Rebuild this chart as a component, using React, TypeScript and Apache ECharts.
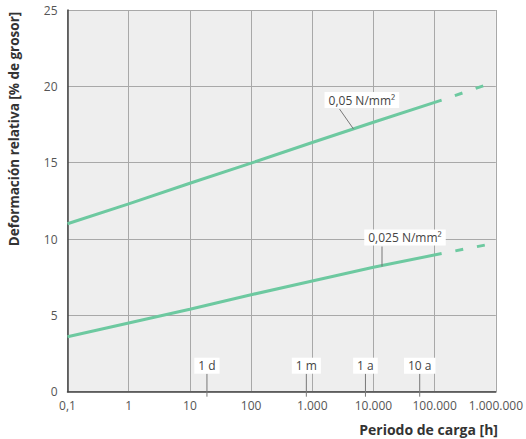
import React, { useEffect, useRef } from "react";
import * as echarts from "echarts";

// ---- data ----
const xTickLabels = ["0,1", "1", "10", "100", "1.000", "10.000", "100.000", "1.000.000"];
const yTicks = [0, 5, 10, 15, 20, 25];

const hoursSolid = [0.1, 1, 10, 100, 1000, 10000, 130000];
const hoursDashed = [130000, 700000];

const def005Solid = [11.0, 12.3, 13.65, 14.97, 16.32, 17.65, 19.1];
const def005Dashed = [19.1, 20.1];
const def0025Solid = [3.6, 4.5, 5.4, 6.35, 7.25, 8.15, 9.05];
const def0025Dashed = [9.05, 9.62];

const seriesNames = ["0,05 N/mm²", "0,025 N/mm²"];
const seriesAnchorHours = [4730, 13800];
const seriesAnchorValues = [17.2, 8.2];

const markerLabels = ["1 d", "1 m", "1 a", "10 a"];
const markerHours = [19, 800, 7400, 57000];

const yAxisTitle = "Deformación relativa [% de grosor]";
const xAxisTitle = "Periodo de carga [h]";

const LINE_COLOR = "#6dc9a0";
const FONT = "'Open Sans', 'Noto Sans', sans-serif";

const zip = (xs: number[], ys: number[]) => xs.map((x, i) => [x, ys[i]]);

export default function App() {
  const ref = useRef<HTMLDivElement>(null);

  useEffect(() => {
    document.body.style.margin = "0";
    const chart = echarts.init(ref.current!, undefined, { renderer: "svg" });
    const option: any = {
      animation: false,
      grid: {
        left: 67.5,
        right: 28,
        top: 10,
        bottom: 47.3,
        show: true,
        backgroundColor: "#eeeeee",
        borderWidth: 0,
      },
      xAxis: {
        type: "log",
        logBase: 10,
        min: 0.1,
        max: 1000000,
        axisLine: { show: true, lineStyle: { color: "#444", width: 1.5 } },
        axisTick: { show: false },
        splitLine: { show: true, lineStyle: { color: "#a8a8a8", width: 1 } },
        minorSplitLine: { show: false },
        axisLabel: {
          color: "#555",
          fontSize: 12,
          fontFamily: FONT,
          margin: 8,
          formatter: (v: number) => {
            const idx = Math.round(Math.log10(v)) + 1;
            return xTickLabels[idx] ?? "";
          },
        },
      },
      yAxis: {
        type: "value",
        min: yTicks[0],
        max: yTicks[yTicks.length - 1],
        interval: 5,
        axisLine: { show: true, lineStyle: { color: "#444", width: 1.5 } },
        axisTick: { show: false },
        splitLine: { show: true, lineStyle: { color: "#a8a8a8", width: 1 } },
        axisLabel: {
          color: "#555",
          fontSize: 12,
          fontFamily: FONT,
          margin: 10,
        },
      },
      series: [
        {
          name: seriesNames[0],
          type: "line",
          data: zip(hoursSolid, def005Solid),
          symbol: "none",
          lineStyle: { color: LINE_COLOR, width: 3 },
          z: 5,
        },
        {
          name: seriesNames[0] + " ext",
          type: "line",
          data: zip(hoursDashed, def005Dashed),
          symbol: "none",
          lineStyle: { color: LINE_COLOR, width: 3, type: [8, 14], dashOffset: 8, cap: "butt" },
          z: 5,
        },
        {
          name: seriesNames[1],
          type: "line",
          data: zip(hoursSolid, def0025Solid),
          symbol: "none",
          lineStyle: { color: LINE_COLOR, width: 3 },
          z: 5,
        },
        {
          name: seriesNames[1] + " ext",
          type: "line",
          data: zip(hoursDashed, def0025Dashed),
          symbol: "none",
          lineStyle: { color: LINE_COLOR, width: 3, type: [8, 14], dashOffset: 8, cap: "butt" },
          z: 5,
        },
      ],
    };
    chart.setOption(option);

    const toPx = (x: number, y: number) =>
      chart.convertToPixel({ xAxisIndex: 0, yAxisIndex: 0 }, [x, y]) as number[];

    const graphics: any[] = [];

    // axis titles
    graphics.push({
      type: "text",
      x: 14,
      y: 129,
      rotation: Math.PI / 2,
      style: {
        text: yAxisTitle,
        fill: "#333",
        font: `bold 13.5px ${FONT}`,
        align: "center",
        verticalAlign: "middle",
      },
      z: 10,
    });
    graphics.push({
      type: "text",
      x: 498,
      y: 429,
      style: {
        text: xAxisTitle,
        fill: "#333",
        font: `bold 14px ${FONT}`,
        align: "right",
        verticalAlign: "middle",
      },
      z: 10,
    });

    // time markers
    const axisY = toPx(1, 0)[1];
    markerHours.forEach((h, i) => {
      const [px] = toPx(h, 0);
      graphics.push({
        type: "line",
        shape: { x1: px, y1: axisY - 18, x2: px, y2: axisY + 5 },
        style: { stroke: "#777", lineWidth: 1 },
        z: 10,
      });
      graphics.push({
        type: "text",
        x: px,
        y: axisY - 26,
        style: {
          text: markerLabels[i],
          fill: "#444",
          font: `12px ${FONT}`,
          align: "center",
          verticalAlign: "middle",
          backgroundColor: "#ffffff",
          padding: [2, 4, 2, 4],
        },
        z: 11,
      });
    });

    // series labels with leader lines
    const labelOffsets = [
      { dx: -14, dy: -20, lx: -15, ly: -29 },
      { dx: 0, dy: -20, lx: 23, ly: -29 },
    ];
    seriesNames.forEach((name, i) => {
      const [ax, ay] = toPx(seriesAnchorHours[i], seriesAnchorValues[i]);
      const o = labelOffsets[i];
      graphics.push({
        type: "line",
        shape: { x1: ax, y1: ay, x2: ax + o.dx, y2: ay + o.dy },
        style: { stroke: "#777", lineWidth: 1 },
        z: 10,
      });
      graphics.push({
        type: "text",
        x: ax + o.dx + o.lx,
        y: ay + o.dy - 9,
        style: {
          text: name,
          fill: "#444",
          font: `12px ${FONT}`,
          align: i === 0 ? "left" : "center",
          verticalAlign: "middle",
          backgroundColor: "#ffffff",
          padding: [2, 4, 2, 4],
        },
        z: 11,
      });
    });

    chart.setOption({ graphic: graphics });

    return () => chart.dispose();
  }, []);

  return (
    <div
      ref={ref}
      style={{ position: "absolute", left: 0, top: 0, width: 526, height: 439 }}
    />
  );
}
